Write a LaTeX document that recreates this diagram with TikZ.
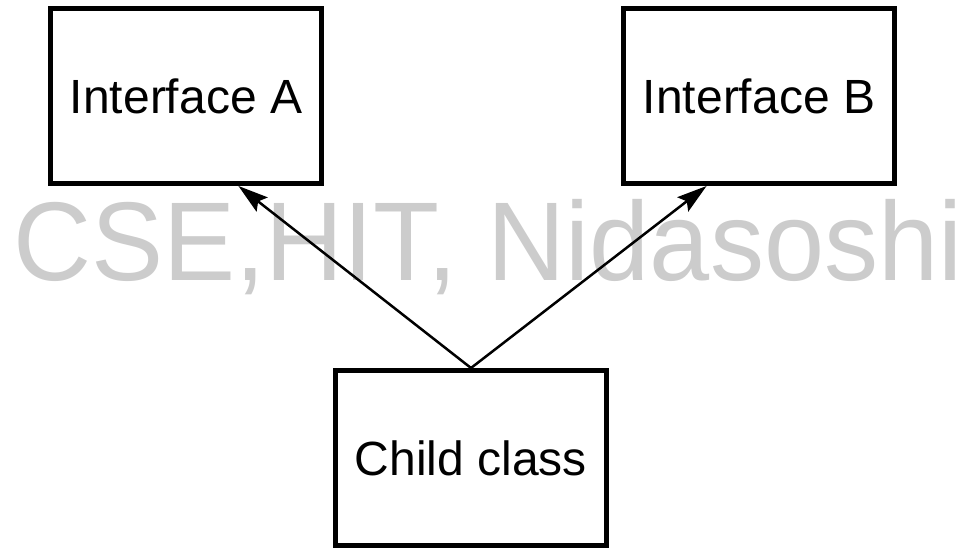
\documentclass[tikz,border=0pt]{standalone}
\usepackage{fontspec}
\setmainfont{Liberation Sans}
\usepackage{tikz}
\usetikzlibrary{arrows.meta,calc}

\definecolor{markgray}{RGB}{204,204,204}
\tikzset{
	classbox/.style={draw, line width=5pt, minimum width=271pt, minimum height=175pt, inner sep=0pt, font=\fontsize{48}{56}\selectfont},
	inherit/.style={-{Stealth[length=30pt,width=18pt,inset=5pt]}, line width=2.5pt}
}

\begin{document}
\begin{tikzpicture}[x=1pt, y=-1pt]
		\useasboundingbox (0,0) rectangle (972,549);
		
		% watermark behind everything
		\node[anchor=base, text=markgray, font=\fontsize{112}{120}\selectfont, inner sep=0pt] (mark) at (488,280) {\scalebox{0.965}[1]{CSE,HIT, Nidasoshi}};
		
		\node[classbox] (ifA) at (186,96) {Interface A};
		\node[classbox] (ifB) at (759,96) {Interface B};
		\node[classbox] (child) at (471,458) {Child class};
		
		\draw[inherit] (child.north) -- ($(ifA.south)!0.38!(ifA.south east)$);
		\draw[inherit] (child.north) -- ($(ifB.south)!0.38!(ifB.south west)$);
	\end{tikzpicture}
\end{document}
